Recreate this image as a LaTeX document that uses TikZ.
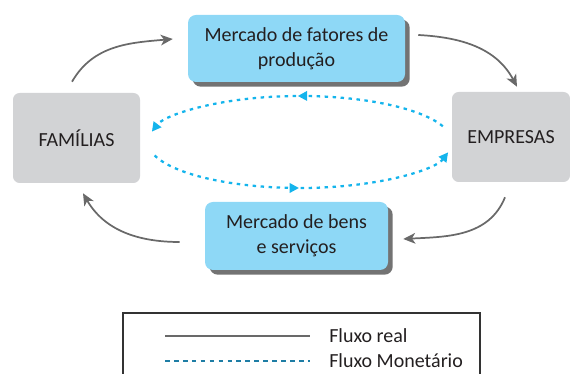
\documentclass[tikz,border=0pt]{standalone}
\usepackage{fontspec}
\setmainfont{Carlito}
\usetikzlibrary{arrows.meta, shadows, decorations.markings, positioning}
\usepackage{xcolor}
\definecolor{boxgray}{RGB}{210,211,213}
\definecolor{boxblue}{RGB}{142,216,246}
\definecolor{shadegray}{RGB}{115,115,115}
\definecolor{realgray}{RGB}{105,105,105}
\definecolor{moneycyan}{RGB}{20,180,236}
\definecolor{legendteal}{RGB}{30,125,165}
\definecolor{textdark}{RGB}{35,31,32}

\begin{document}
\begin{tikzpicture}[x=0.75pt, y=0.75pt,
        font=\fontsize{15}{18.75}\selectfont, text=textdark,
        agent/.style={fill=boxgray, rounded corners=5pt, minimum width=#1, minimum height=67.5pt, inner sep=0pt},
        market/.style={fill=boxblue, rounded corners=6pt, align=center, inner sep=0pt,
            drop shadow={shadow xshift=3.5pt, shadow yshift=-3.5pt, fill=shadegray, opacity=1}},
        real/.style={draw=realgray, line width=1.3pt, -{Stealth[length=9pt, width=8pt, inset=2.5pt]}},
        money/.style={draw=moneycyan, line width=1.7pt, dash pattern=on 2.6pt off 3.4pt,
            -{Triangle[length=7pt, width=7pt]},
            postaction={decorate}, decoration={markings, mark=at position #1 with {\arrow{Triangle[length=7pt, width=7pt]}}}}]
        \useasboundingbox (0,0) rectangle (570,374);
        % agents
        \node[agent=95.25pt] (fam) at (76.5,236) {FAMÍLIAS};
        \node[agent=88.5pt] (emp) at (511,237) {EMPRESAS};
        % markets
        \node[market, minimum width=162.75pt, minimum height=50.25pt] (mfp) at (296.5,325.5) {Mercado de fatores de\\produção};
        \node[market, minimum width=137.25pt, minimum height=51pt] (mbs) at (296.5,138) {Mercado de bens\\e serviços};
        % real flow
        \draw[real] ([shift={(-4.5,11)}]fam.north) to[out=60, in=185] ([shift={(-15,9.5)}]mfp.west);
        \draw[real] ([shift={(13,13.5)}]mfp.east) to[out=-3, in=118] ([shift={(6,5)}]emp.north);
        \draw[real] ([shift={(-6,-15)}]emp.south) to[out=-112, in=3] ([shift={(15,-3)}]mbs.east);
        \draw[real] ([shift={(-25,-6)}]mbs.west) to[out=180, in=-60] ([shift={(6.5,-10)}]fam.south);
        % money flow
        \coordinate (ring) at (300,232);
        \draw[money=0.495] ([shift={(20:152 and 46)}]ring) arc[start angle=20, end angle=167, x radius=152, y radius=46];
        \draw[money=0.49] ([shift={(197:152 and 46)}]ring) arc[start angle=197, end angle=347, x radius=152, y radius=46];
        % legend
        \draw[line width=1pt, draw=black!80] (123,0) -- (123,61) -- (480,61) -- (480,0);
        \coordinate (realA) at (165,38);
        \coordinate (realB) at (310,38);
        \coordinate (moneyA) at (165,13);
        \coordinate (moneyB) at (310,13);
        \draw[draw=realgray, line width=1.1pt] (realA) -- (realB);
        \draw[draw=legendteal, line width=1pt, dash pattern=on 3.5pt off 3.2pt] (moneyA) -- (moneyB);
        \node[anchor=base west, inner sep=0pt] (realtxt) at (329,31) {Fluxo real};
        \node[anchor=base west, inner sep=0pt] (moneytxt) at (329,6) {Fluxo Monetário};
    \end{tikzpicture}
\end{document}
